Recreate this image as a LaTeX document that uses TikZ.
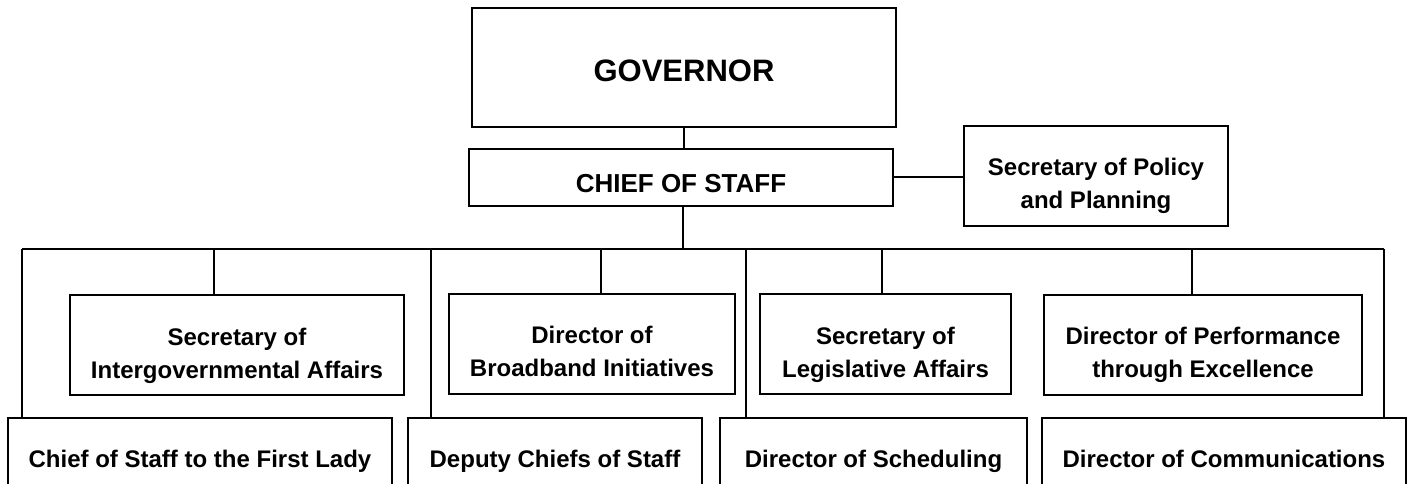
\documentclass[tikz,border=0pt]{standalone}
\usepackage{fontspec}
\setmainfont{Liberation Sans}
\usepackage{tikz}

\newcommand{\twolines}[2]{\rule{0pt}{28.5pt}#1\\#2\rule[-3.75pt]{0pt}{0pt}}

\begin{document}
\begin{tikzpicture}[
    x=0.75pt, y=-0.75pt, line width=1.5pt,
    every node/.style={draw, rectangle, inner sep=0pt, outer sep=0pt, align=center,
        font=\bfseries\fontsize{18}{24.75}\selectfont},
    upper/.style={minimum height=75pt},
    lower/.style={minimum height=64.5pt, text height=13.2pt, text depth=3.75pt}
]
\clip (0,0) rectangle (1410,484);

% Nodes
\node (gov) at (684,67.5) [minimum width=318pt, minimum height=89.25pt,
    text height=21.75pt, text depth=0pt, font=\bfseries\fontsize{23.25}{28}\selectfont] {GOVERNOR};
\node (cos) at (681,177.5) [minimum width=318pt, minimum height=42.75pt,
    text height=23.25pt, text depth=0pt, font=\bfseries\fontsize{19.5}{24}\selectfont] {CHIEF OF STAFF};
\node (policy) at (1096,176) [upper, minimum width=198pt] {\twolines{Secretary of Policy}{and Planning}};

\node (intergov) at (237,345.5) [upper, minimum width=250.5pt] {\twolines{Secretary of}{Intergovernmental Affairs}};
\node (broadband) at (592,344) [upper, minimum width=214.5pt] {\twolines{Director of}{Broadband Initiatives}};
\node (legis) at (885.5,344.5) [upper, minimum width=188.25pt] {\twolines{Secretary of}{Legislative Affairs}};
\node (perf) at (1203,345) [upper, minimum width=238.5pt] {\twolines{Director of Performance}{through Excellence}};

\node (lady) at (200,461) [lower, minimum width=288pt] {Chief of Staff to the First Lady};
\node (deputy) at (555,461) [lower, minimum width=220.5pt] {Deputy Chiefs of Staff};
\node (sched) at (873.5,461) [lower, minimum width=230.25pt] {Director of Scheduling};
\node (comms) at (1224,461) [lower, minimum width=273pt] {Director of Communications};

% Bar points
\coordinate (hub) at (683,249);
\coordinate (barL) at (22,249);
\coordinate (barR) at (1384,249);
\coordinate (t1) at (214,249);
\coordinate (t2) at (601,249);
\coordinate (t3) at (882,249);
\coordinate (t4) at (1192,249);
\coordinate (t5) at (431,249);
\coordinate (t6) at (746,249);

% Edges
\draw (gov.south) -- (gov.south |- cos.north);
\draw (cos.east) -- (cos.east -| policy.west);
\draw (hub |- cos.south) -- (hub);
\draw (barL) -- (barR);
\draw (t1) -- (t1 |- intergov.north);
\draw (t2) -- (t2 |- broadband.north);
\draw (t3) -- (t3 |- legis.north);
\draw (t4) -- (t4 |- perf.north);
\draw (barL) -- (barL |- lady.north);
\draw (t5) -- (t5 |- deputy.north);
\draw (t6) -- (t6 |- sched.north);
\draw (barR) -- (barR |- comms.north);

\end{tikzpicture}
\end{document}
